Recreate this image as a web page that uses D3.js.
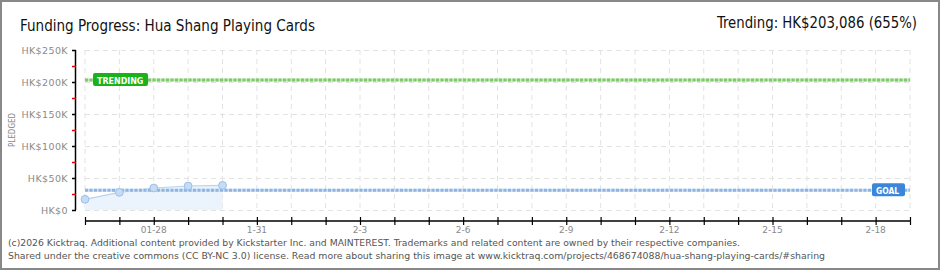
<!DOCTYPE html>
<html>
<head>
<meta charset="utf-8">
<script src="https://cdn.jsdelivr.net/npm/d3@7"></script>
<style>
  body { margin: 0; background: #fff; }
  svg { display: block; }
</style>
</head>
<body>
<div id="chart"></div>
<script>
// Data
const dates = ["2026-01-26", "2026-01-27", "2026-01-28", "2026-01-29", "2026-01-30"];
const pledged = [16700, 27600, 34400, 37500, 38500];
const goal = 31000;
const trending = 203086;
const yTicks = [0, 50000, 100000, 150000, 200000, 250000];
const yTickLabels = ["HK$0", "HK$50K", "HK$100K", "HK$150K", "HK$200K", "HK$250K"];
const xTickDates = ["2026-01-28", "2026-01-31", "2026-02-03", "2026-02-06", "2026-02-09", "2026-02-12", "2026-02-15", "2026-02-18"];
const xTickLabels = ["01-28", "1-31", "2-3", "2-6", "2-9", "2-12", "2-15", "2-18"];

const width = 940, height = 270;
const parse = d3.utcParse("%Y-%m-%d");
const data = dates.map((d, i) => ({date: parse(d), value: pledged[i]}));

const x = d3.scaleUtc()
    .domain([parse("2026-01-26"), parse("2026-02-19")])
    .range([85, 910]);
const y = d3.scaleLinear()
    .domain([0, 250000])
    .range([210, 50]);

const svg = d3.select("#chart").append("svg")
    .attr("width", width)
    .attr("height", height);

// frame
svg.append("rect")
    .attr("x", 1).attr("y", 1)
    .attr("width", width - 2).attr("height", height - 2)
    .attr("fill", "#fff")
    .attr("stroke", "#888")
    .attr("stroke-width", 2);

// titles
svg.append("text")
    .attr("x", 20).attr("y", 31)
    .attr("font-family", "DejaVu Sans Condensed")
    .attr("font-size", 16)
    .attr("fill", "#111")
    .attr("textLength", 295)
    .attr("lengthAdjust", "spacingAndGlyphs")
    .text("Funding Progress: Hua Shang Playing Cards");

svg.append("text")
    .attr("x", 717).attr("y", 28)
    .attr("font-family", "DejaVu Sans Condensed")
    .attr("font-size", 16)
    .attr("fill", "#111")
    .attr("textLength", 200)
    .attr("lengthAdjust", "spacingAndGlyphs")
    .text("Trending: HK$203,086 (655%)");

// grid
const days = d3.utcDay.range(x.domain()[0], d3.utcDay.offset(x.domain()[1], 1));
svg.append("g")
    .selectAll("line")
    .data(days)
    .join("line")
    .attr("x1", d => x(d)).attr("x2", d => x(d))
    .attr("y1", y(250000)).attr("y2", y(0))
    .attr("stroke", "#e2e2e2")
    .attr("stroke-dasharray", "5,4");

svg.append("g")
    .selectAll("line")
    .data(yTicks)
    .join("line")
    .attr("x1", x.range()[0]).attr("x2", x.range()[1])
    .attr("y1", d => y(d) + 0.5).attr("y2", d => y(d) + 0.5)
    .attr("stroke", "#e2e2e2")
    .attr("stroke-dasharray", "5,4");

// area + line
const area = d3.area()
    .x(d => x(d.date))
    .y0(y(0))
    .y1(d => y(d.value));
svg.append("path")
    .datum(data)
    .attr("fill", "#ebf3fc")
    .attr("d", area);

const line = d3.line()
    .x(d => x(d.date))
    .y(d => y(d.value));
svg.append("path")
    .datum(data)
    .attr("fill", "none")
    .attr("stroke", "#b8d3f1")
    .attr("stroke-width", 1.2)
    .attr("d", line);

// goal and trending dashed lines
function dashedLine(value, light, dark) {
    svg.append("line")
        .attr("x1", x.range()[0]).attr("x2", x.range()[1])
        .attr("y1", y(value)).attr("y2", y(value))
        .attr("stroke", light)
        .attr("stroke-width", 3);
    svg.append("line")
        .attr("x1", x.range()[0]).attr("x2", x.range()[1])
        .attr("y1", y(value)).attr("y2", y(value))
        .attr("stroke", dark)
        .attr("stroke-width", 3)
        .attr("stroke-dasharray", "3,1.5");
}
dashedLine(trending, "#c8eac0", "#7ccb66");
dashedLine(goal, "#cfe0f3", "#8db6e2");

// points
svg.append("g")
    .selectAll("circle")
    .data(data)
    .join("circle")
    .attr("cx", d => x(d.date))
    .attr("cy", d => y(d.value))
    .attr("r", 3.9)
    .attr("fill", "#c5dcf5")
    .attr("stroke", "#9ebfe6")
    .attr("stroke-width", 1);

// labels on lines
function tag(px, value, w, text, fill) {
    const cy = y(value);
    svg.append("rect")
        .attr("x", px).attr("y", cy - 7)
        .attr("width", w).attr("height", 13)
        .attr("rx", 2)
        .attr("fill", fill);
    svg.append("text")
        .attr("x", px + 4).attr("y", cy + 3.5)
        .attr("font-family", "DejaVu Sans")
        .attr("font-size", 9.5)
        .attr("font-weight", "bold")
        .attr("fill", "#fff")
        .attr("textLength", text.length * 5.8)
        .attr("lengthAdjust", "spacingAndGlyphs")
        .text(text);
}
tag(93, trending, 55, "TRENDING", "#19b319");
tag(872, goal, 33, "GOAL", "#3b86d8");

// y axis
const yAxis = svg.append("g");
yAxis.append("line")
    .attr("x1", 75.5).attr("x2", 75.5)
    .attr("y1", y(250000)).attr("y2", y(0))
    .attr("stroke", "#000")
    .attr("stroke-width", 1.5);
yAxis.selectAll("line.major")
    .data(yTicks)
    .join("line")
    .attr("class", "major")
    .attr("x1", 72).attr("x2", 76)
    .attr("y1", d => y(d) + 0.5).attr("y2", d => y(d) + 0.5)
    .attr("stroke", "#000")
    .attr("stroke-width", 1.5);
yAxis.selectAll("line.minor")
    .data(yTicks.slice(0, -1).map(d => d + 25000))
    .join("line")
    .attr("class", "minor")
    .attr("x1", 72).attr("x2", 76)
    .attr("y1", d => y(d) + 0.5).attr("y2", d => y(d) + 0.5)
    .attr("stroke", "#e00")
    .attr("stroke-width", 1.5);
yAxis.selectAll("text")
    .data(yTicks)
    .join("text")
    .attr("x", 68)
    .attr("y", d => y(d) + 3.5)
    .attr("text-anchor", "end")
    .attr("font-family", "DejaVu Sans")
    .attr("font-size", 9.5)
    .attr("fill", "#8a8a8a")
    .attr("letter-spacing", 0.4)
    .text((d, i) => yTickLabels[i]);

svg.append("text")
    .attr("transform", "translate(15,130) rotate(-90)")
    .attr("text-anchor", "middle")
    .attr("font-family", "DejaVu Sans")
    .attr("font-size", 9)
    .attr("fill", "#8a8a8a")
    .attr("textLength", 34)
    .attr("lengthAdjust", "spacingAndGlyphs")
    .text("PLEDGED");

// x axis
const xAxis = svg.append("g");
xAxis.append("line")
    .attr("x1", x.range()[0]).attr("x2", x.range()[1])
    .attr("y1", 221).attr("y2", 221)
    .attr("stroke", "#000")
    .attr("stroke-width", 1.5);
xAxis.selectAll("line.tick")
    .data(days)
    .join("line")
    .attr("class", "tick")
    .attr("x1", d => x(d) + 0.5).attr("x2", d => x(d) + 0.5)
    .attr("y1", 217).attr("y2", 225)
    .attr("stroke", "#000")
    .attr("stroke-width", 1.2);
xAxis.selectAll("text")
    .data(xTickDates)
    .join("text")
    .attr("x", d => x(parse(d)))
    .attr("y", 233)
    .attr("text-anchor", "middle")
    .attr("font-family", "DejaVu Sans")
    .attr("font-size", 9)
    .attr("fill", "#8a8a8a")
    .text((d, i) => xTickLabels[i]);

// footer
svg.append("text")
    .attr("x", 8).attr("y", 246)
    .attr("font-family", "DejaVu Sans")
    .attr("font-size", 9.5)
    .attr("fill", "#555")
    .attr("textLength", 732)
    .attr("lengthAdjust", "spacingAndGlyphs")
    .text("(c)2026 Kicktraq. Additional content provided by Kickstarter Inc. and MAINTEREST. Trademarks and related content are owned by their respective companies.");
svg.append("text")
    .attr("x", 8).attr("y", 259)
    .attr("font-family", "DejaVu Sans")
    .attr("font-size", 9.5)
    .attr("fill", "#555")
    .attr("textLength", 817)
    .attr("lengthAdjust", "spacingAndGlyphs")
    .text("Shared under the creative commons (CC BY-NC 3.0) license. Read more about sharing this image at www.kicktraq.com/projects/468674088/hua-shang-playing-cards/#sharing");
</script>
</body>
</html>
